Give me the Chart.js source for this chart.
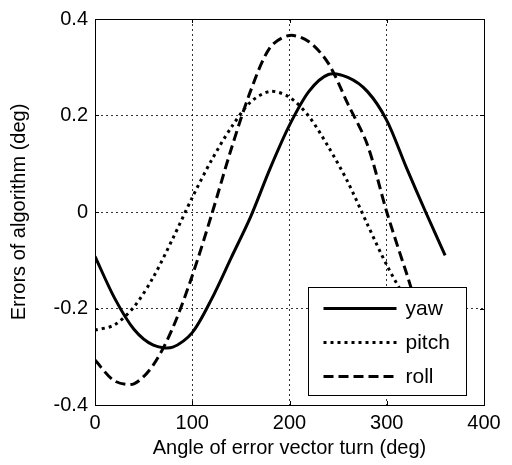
<!DOCTYPE html>
<html>
<head>
<meta charset="utf-8">
<script src="https://cdn.jsdelivr.net/npm/chart.js@4"></script>
<style>
    html, body { margin: 0; padding: 0; background: #fff; }
    #wrap { width: 512px; height: 465px; }
</style>
</head>
<body>
<div id="wrap"><canvas id="chart" width="512" height="465"></canvas></div>
<script>
// angle of error vector turn, deg
const angles = [0, 20, 40, 60, 80, 100, 120, 140, 160, 180,
    200, 220, 240, 260, 280, 300, 320, 340, 360];
const yaw = [-0.092, -0.178, -0.243, -0.276, -0.28, -0.25, -0.18, -0.095, -0.01, 0.09,
    0.18, 0.25, 0.285, 0.279, 0.25, 0.19, 0.093, 0.0, -0.09];
const pitch = [-0.245, -0.234, -0.197, -0.135, -0.055, 0.03, 0.108, 0.175, 0.228, 0.25,
    0.238, 0.198, 0.135, 0.062, -0.025, -0.11, -0.18, -0.228, -0.245];
const roll = [-0.307, -0.35, -0.356, -0.317, -0.24, -0.132, -0.005, 0.13, 0.251, 0.341,
    0.366, 0.353, 0.308, 0.224, 0.14, 0.0, -0.125, -0.245, -0.307];
const series_names = ["yaw", "pitch", "roll"];
const x_ticks = [0, 100, 200, 300, 400];
const y_ticks = [-0.4, -0.2, 0, 0.2, 0.4];

const FONT = "'Liberation Sans', Arial, sans-serif";

function points(values) {
    return angles.map((a, i) => ({x: a, y: values[i]}));
}

function fmt(v) {
    const r = Math.round(v * 10) / 10;
    return r === 0 ? "0" : r.toString();
}

// box round the axes plus small inward ticks, like matlab does
const frame = {
    id: "frame",
    afterDatasetsDraw(chart) {
        const {ctx, chartArea: a, scales} = chart;
        ctx.save();
        ctx.strokeStyle = "#000";
        ctx.lineWidth = 1;
        ctx.setLineDash([]);
        ctx.beginPath();
        for (const t of x_ticks) {
            const px = Math.round(scales.x.getPixelForValue(t)) + 0.5;
            ctx.moveTo(px, a.bottom); ctx.lineTo(px, a.bottom - 4);
            ctx.moveTo(px, a.top); ctx.lineTo(px, a.top + 4);
        }
        for (const t of y_ticks) {
            const py = Math.round(scales.y.getPixelForValue(t)) + 0.5;
            ctx.moveTo(a.left, py); ctx.lineTo(a.left + 4, py);
            ctx.moveTo(a.right, py); ctx.lineTo(a.right - 4, py);
        }
        ctx.stroke();
        ctx.strokeRect(Math.round(a.left) + 0.5, Math.round(a.top) + 0.5,
            Math.round(a.right - a.left), Math.round(a.bottom - a.top));
        ctx.restore();
    }
};

// legend sits inside the plot, bottom right, on white
const inner_legend = {
    id: "inner_legend",
    afterDatasetsDraw(chart) {
        const {ctx, chartArea: a} = chart;
        const w = 158, h = 108;
        const x0 = Math.round(a.right - 18 - w) + 0.5,
            y0 = Math.round(a.bottom - 10 - h) + 0.5;
        ctx.save();
        ctx.fillStyle = "#fff";
        ctx.fillRect(x0, y0, w, h);
        ctx.strokeStyle = "#000";
        ctx.lineWidth = 1;
        ctx.setLineDash([]);
        ctx.strokeRect(x0, y0, w, h);
        ctx.font = "21px " + FONT;
        ctx.textBaseline = "middle";
        ctx.fillStyle = "#000";
        chart.data.datasets.forEach((ds, i) => {
            const y = y0 + 21 + i * 34;
            ctx.beginPath();
            ctx.lineWidth = ds.borderWidth;
            ctx.lineCap = "butt";
            ctx.setLineDash(ds.borderDash || []);
            ctx.moveTo(x0 + 15, y);
            ctx.lineTo(x0 + 88, y);
            ctx.stroke();
            ctx.setLineDash([]);
            ctx.fillText(ds.label, x0 + 97, y + 1);
        });
        ctx.restore();
    }
};

function line(label, values, dash) {
    return {
        label,
        data: points(values),
        borderColor: "#000",
        backgroundColor: "#000",
        borderWidth: 3,
        borderDash: dash,
        borderCapStyle: "butt",
        pointRadius: 0,
        tension: 0.3,
        fill: false
    };
}

const grid = {
    color: "rgba(0,0,0,0.8)",
    lineWidth: 1,
    drawTicks: false
};

new Chart(document.querySelector("#chart"), {
    type: "line",
    data: {
        datasets: [
            line(series_names[0], yaw, []),
            line(series_names[1], pitch, [3, 4]),
            line(series_names[2], roll, [10, 5])
        ]
    },
    options: {
        responsive: false,
        animation: false,
        layout: {padding: {top: 18, right: 28, left: 0, bottom: 0}},
        plugins: {
            legend: {display: false},
            tooltip: {enabled: false}
        },
        scales: {
            x: {
                type: "linear",
                min: 0,
                max: 400,
                afterBuildTicks: s => { s.ticks = x_ticks.map(v => ({value: v})); },
                afterFit: s => { s.height = 60; },
                grid: grid,
                border: {display: true, color: "#000", width: 1, dash: [2, 3]},
                ticks: {
                    color: "#000",
                    font: {family: FONT, size: 20},
                    padding: 6,
                    maxRotation: 0
                },
                title: {
                    display: true,
                    text: "Angle of error vector turn (deg)",
                    color: "#000",
                    font: {family: FONT, size: 20},
                    padding: {top: 0, bottom: 5}
                }
            },
            y: {
                type: "linear",
                min: -0.4,
                max: 0.4,
                afterBuildTicks: s => { s.ticks = y_ticks.map(v => ({value: v})); },
                afterFit: s => { s.width = 95; },
                grid: grid,
                border: {display: true, color: "#000", width: 1, dash: [2, 3]},
                ticks: {
                    color: "#000",
                    font: {family: FONT, size: 20},
                    padding: 7,
                    callback: v => fmt(v)
                },
                title: {
                    display: true,
                    text: "Errors of algorithm (deg)",
                    color: "#000",
                    font: {family: FONT, size: 20},
                    padding: {top: 7, bottom: 0}
                }
            }
        }
    },
    plugins: [frame, inner_legend]
});
</script>
</body>
</html>
